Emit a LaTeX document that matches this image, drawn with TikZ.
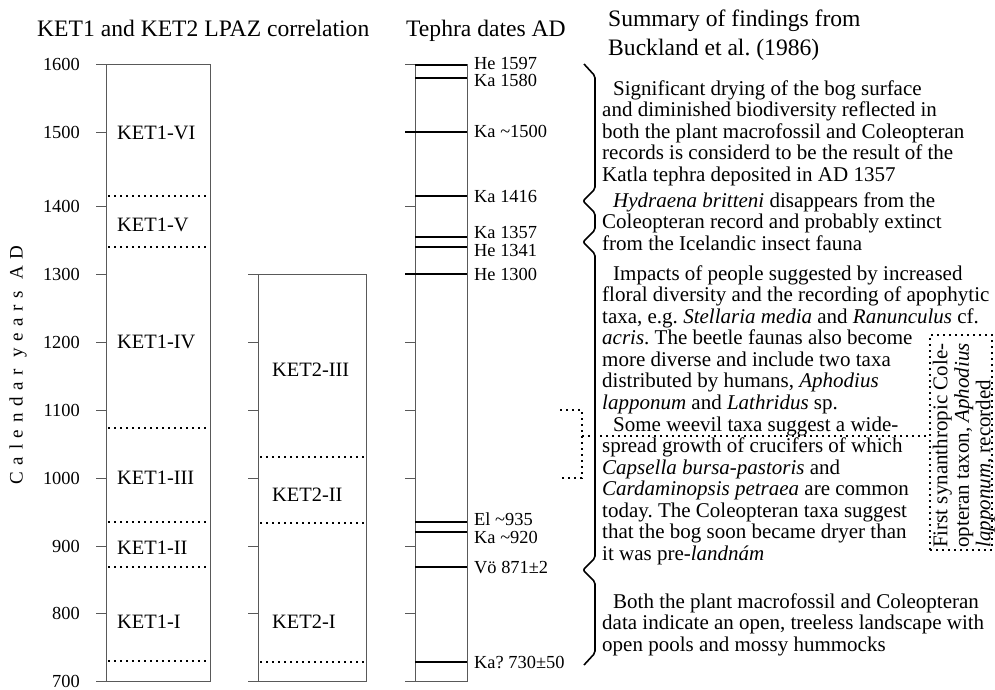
\documentclass[tikz,border=0pt]{standalone}
\usepackage{fontspec}
\setmainfont{Liberation Serif}
\newfontfamily\espacada[LetterSpace=35]{Liberation Serif}
\frenchspacing
\usetikzlibrary{positioning}

\begin{document}
\begin{tikzpicture}[
        x=1pt, y=-1pt,
        coluna/.style={draw=black!65, line width=0.9pt},
        marca/.style={draw=black!65, line width=0.9pt},
        limite/.style={line width=1.8pt, dash pattern=on 1.8pt off 4.2pt},
        tefra/.style={line width=1.8pt},
        chave/.style={line width=1.6pt, rounded corners=2pt},
        rotulo/.style={font=\fontsize{18.4}{20}\selectfont, inner sep=0pt},
        zona/.style={font=\fontsize{20.4}{22}\selectfont, inner sep=0pt, anchor=west},
        titulo/.style={font=\fontsize{23.6}{29}\selectfont, inner sep=0pt, anchor=base west, align=left},
        texto/.style={font=\fontsize{21}{21.5}\selectfont, inner sep=0pt, anchor=base west, align=left}
    ]
        \useasboundingbox (0,0) rectangle (995,690);

        % titulos (base = ultima linha)
        \node[titulo] (tit1) at (37,37) {KET1 and KET2 LPAZ correlation};
        \node[titulo] (tit2) at (406,37) {Tephra dates AD};
        \node[titulo] (tit3) at (608,56) {Summary of findings from\\Buckland et al. (1986)};
        \node[inner sep=0pt, rotate=90, font=\fontsize{19}{20}\selectfont] (eixo) at (18,365) {\espacada Calendar years AD};

        % escala e colunas
        \foreach \y/\ano in {64/1600, 132/1500, 206/1400, 274/1300, 342/1200, 410/1100, 478/1000, 546/900, 613/800, 681/700} {
            \draw[marca] (96,\y) -- (106,\y);
            \draw[marca] (405,\y) -- (415,\y);
            \node[rotulo, anchor=east] (ano\ano) at (80,\y) {\ano};
        }
        \foreach \y in {274, 342, 410, 478, 546, 613, 681}
            \draw[marca] (248,\y) -- (258,\y);
        \draw[coluna] (106,64) rectangle (210,681);
        \draw[coluna] (258,274) rectangle (366,681);
        \draw[coluna] (415,64) rectangle (467,681);

        % limites das zonas
        \foreach \y in {196, 247, 428, 522, 567, 661}
            \draw[limite] (108,\y) -- (209,\y);
        \foreach \y in {457, 523, 662}
            \draw[limite] (260,\y) -- (365,\y);

        \node[zona] (k1vi) at (117,133) {KET1-VI};
        \node[zona] (k1v) at (117,225) {KET1-V};
        \node[zona] (k1iv) at (117,342) {KET1-IV};
        \node[zona] (k1iii) at (117,478) {KET1-III};
        \node[zona] (k1ii) at (117,548) {KET1-II};
        \node[zona] (k1i) at (117,622) {KET1-I};
        \node[zona] (k2iii) at (272,370) {KET2-III};
        \node[zona] (k2ii) at (272,495) {KET2-II};
        \node[zona] (k2i) at (272,622) {KET2-I};

        % tefras
        \foreach \y/\ly/\nome/\txt in {65/63/a/{He 1597}, 78/80/b/{Ka 1580}, 132/131/c/{Ka \textasciitilde1500}, 196/196/d/{Ka 1416}, 237/232/e/{Ka 1357}, 247/250/f/{He 1341}, 274/274/g/{He 1300}, 522/519/h/{El \textasciitilde935}, 532/537/i/{Ka \textasciitilde920}, 567/568/j/{Vö 871±2}, 662/663/k/{Ka? 730±50}} {
            \draw[tefra] (415,\y) -- (467,\y);
            \node[rotulo, anchor=west] (tef\nome) at (474,\ly) {\txt};
        }
        \draw[tefra] (405,132) -- (415,132);
        \draw[tefra] (405,274) -- (415,274);

        \draw[chave] (584,64) -- (595,76) -- (595,189) -- (583,201) -- (595,213) -- (595,230) -- (583,242) -- (595,254)
            -- (595,558) -- (583,570) -- (595,582) -- (595,653) -- (584,665);

        % resumo (base = ultima linha)
        \node[texto] (p1) at (602,181) {\hspace*{11pt}Significant drying of the bog surface\\and diminished biodiversity reflected in\\both the plant macrofossil and Coleopteran\\records is considerd to be the result of the\\Katla tephra deposited in AD 1357};
        \node[texto] (p2) at (602,250) {\hspace*{11pt}\textit{Hydraena britteni} disappears from the\\Coleopteran record and probably extinct\\from the Icelandic insect fauna};
        \node[texto] (p3) at (602,409) {\hspace*{11pt}Impacts of people suggested by increased\\floral diversity and the recording of apophytic\\taxa, e.g. \textit{Stellaria media} and \textit{Ranunculus} cf.\\\textit{acris}. The beetle faunas also become\\more diverse and include two taxa\\distributed by humans, \textit{Aphodius}\\\textit{lapponum} and \textit{Lathridus} sp.};
        \node[texto] (p4) at (602,560) {\hspace*{11pt}Some weevil taxa suggest a wide-\\spread growth of crucifers of which\\\textit{Capsella bursa-pastoris} and\\\textit{Cardaminopsis petraea} are common\\today. The Coleopteran taxa suggest\\that the bog soon became dryer than\\it was pre-\textit{landnám}};
        \node[texto] (p5) at (602,651) {\hspace*{11pt}Both the plant macrofossil and Coleopteran\\data indicate an open, treeless landscape with\\open pools and mossy hummocks};

        % sinantropico
        \node[limite, draw, minimum width=62pt, minimum height=215pt, inner sep=0pt] (achado) at (961,442.5) {};
        \node[texto, rotate=90, anchor=north west] (achadotxt) at (932.5,548) {First synanthropic Cole-\\opteran taxon, \textit{Aphodius}\\\textit{lapponum}, recorded};
        \coordinate (colchete) at (582,436);
        \draw[limite] (560,410) -- (582,410) -- (582,478) -- (560,478);
        \draw[limite] (colchete) -- (achado.west |- colchete);
    \end{tikzpicture}
\end{document}
